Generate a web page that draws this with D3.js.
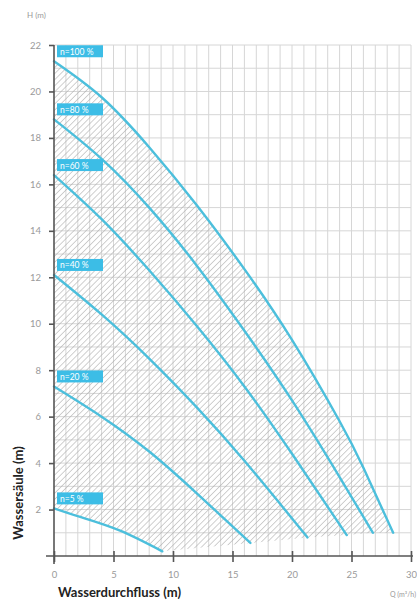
<!DOCTYPE html>
<html><head><meta charset="utf-8">
<script src="https://cdn.jsdelivr.net/npm/d3@7"></script>
<style>html,body{margin:0;padding:0;background:#fff;}svg{display:block;}</style>
</head><body>
<svg id="c" width="417" height="603"></svg>
<script>
// ---- data ----
const xTicks = [0, 5, 10, 15, 20, 25, 30];
const yTicks = [2, 4, 6, 8, 10, 12, 14, 16, 18, 20, 22];
const speedLabels = ["n=100 %", "n=80 %", "n=60 %", "n=40 %", "n=20 %", "n=5 %"];
const curve100 = [[0,21.3],[4,19.75],[8,17.6],[12,15.1],[16,12.35],[20,9.3],[24,5.8],[26,3.8],[28.5,1.0]];
const curve80  = [[0,18.8],[4,17.1],[8,15.0],[12,12.5],[16,9.7],[20,6.7],[24,3.4],[26.8,1.0]];
const curve60  = [[0,16.4],[4,14.5],[8,12.3],[12,9.9],[16,7.3],[20,4.4],[24.6,0.9]];
const curve40  = [[0,12.1],[4,10.4],[8,8.5],[12,6.4],[16,4.1],[21.3,0.8]];
const curve20  = [[0,7.3],[4,6.0],[8,4.5],[12,2.7],[16.5,0.56]];
const curve5   = [[0,2.05],[2.2,1.68],[5.5,1.1],[9.1,0.2]];
const curves = [curve100, curve80, curve60, curve40, curve20, curve5];

// ---- layout ----
const svg = d3.select("#c");
const x = d3.scaleLinear().domain([0, 30]).range([54, 411]);
const y = d3.scaleLinear().domain([0, 22]).range([556, 45]);
const cyan = "#4cbfdc";
const font = "Lato, 'Open Sans', sans-serif";

const defs = svg.append("defs");
const pat = defs.append("pattern").attr("id","hatch").attr("patternUnits","userSpaceOnUse")
  .attr("width",4.3).attr("height",4.3).attr("patternTransform","rotate(45)");
pat.append("line").attr("x1",0).attr("y1",0).attr("x2",0).attr("y2",4.3)
  .attr("stroke","#aaaaaa").attr("stroke-width",1.1);

// grid
const g = svg.append("g");
g.selectAll("line.v").data(d3.range(1, 31)).join("line")
  .attr("x1", d => x(d)).attr("x2", d => x(d)).attr("y1", y(22)).attr("y2", y(0))
  .attr("stroke", "#d6d6d6").attr("stroke-width", 1);
g.selectAll("line.h").data(d3.range(1, 23)).join("line")
  .attr("x1", x(0)).attr("x2", x(30)).attr("y1", d => y(d)).attr("y2", d => y(d))
  .attr("stroke", "#d6d6d6").attr("stroke-width", 1);

// hatched region
const cl = d3.line().x(d => x(d[0])).y(d => y(d[1])).curve(d3.curveNatural);
const ends = curves.slice(1, 5).map(c => c[c.length - 1]);
let dPath = cl(curve100);
ends.forEach(p => { dPath += "L" + x(p[0]) + "," + y(p[1]); });
dPath += cl(curve5.slice().reverse()).replace(/^M/, "L") + "Z";
svg.append("path").attr("d", dPath).attr("fill", "url(#hatch)").attr("stroke", "none");

// curves
svg.selectAll("path.curve").data(curves).join("path").attr("class","curve")
  .attr("d", cl).attr("fill","none").attr("stroke",cyan).attr("stroke-width",2.4)
  .attr("stroke-linecap","round");

// axes
const yAxis = d3.axisLeft(y).tickValues(yTicks).tickSize(5).tickPadding(8);
const ya = svg.append("g").attr("transform", `translate(${x(0)},0)`).call(yAxis);
const xAxis = d3.axisBottom(x).tickValues(xTicks).tickSize(6).tickPadding(9);
const xa = svg.append("g").attr("transform", `translate(0,${y(0)})`).call(xAxis);
[ya, xa].forEach(a => {
  a.select(".domain").attr("stroke", "#555").attr("stroke-width", 1.6);
  a.selectAll(".tick line").attr("stroke", "#555").attr("stroke-width", 1.6);
  a.selectAll(".tick text").attr("fill", "#9a9a9a").attr("font-family", font).attr("font-size", 9.5);
});
xa.selectAll(".tick line").attr("y1", -5);
xa.select(".domain").attr("d", `M${x(0)-8},0H${x(30)+2}`);
ya.select(".domain").attr("d", `M0,${y(22)}V${y(0)+8}`);

// labels boxes
svg.selectAll("g.lab").data(curves).join("g").attr("class","lab")
  .attr("transform", d => `translate(${x(0)+3},${y(d[0][1]) - 16})`)
  .each(function(d, i) {
    const s = d3.select(this);
    s.append("rect").attr("width", 46).attr("height", 12).attr("fill", "#3cbde6");
    s.append("text").attr("x", 3).attr("y", 9.5).attr("fill", "#fff")
      .attr("font-family", font).attr("font-size", 8.5).text(speedLabels[i]);
  });

// titles
svg.append("text").attr("x", 27).attr("y", 18).attr("fill","#9a9a9a")
  .attr("font-family", font).attr("font-size", 8).text("H (m)");
svg.append("text").attr("x", 58).attr("y", 597).attr("fill","#222")
  .attr("font-family", font).attr("font-weight","bold").attr("font-size", 13).text("Wasserdurchfluss (m)");
svg.append("text").attr("x", 416).attr("y", 597).attr("text-anchor","end").attr("fill","#9a9a9a")
  .attr("font-family", font).attr("font-size", 7).text("Q (m³/h)");
svg.append("text").attr("transform", "translate(23,493) rotate(-90)").attr("text-anchor","middle")
  .attr("fill","#222").attr("font-family", font).attr("font-weight","bold").attr("font-size", 13)
  .text("Wassersäule (m)");
</script>
</body></html>
